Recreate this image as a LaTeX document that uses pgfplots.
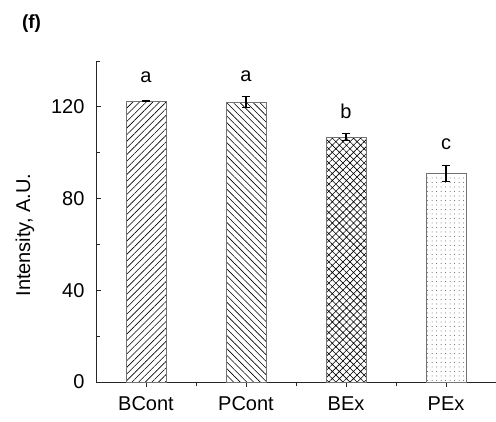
\documentclass[border=0pt]{standalone}
\usepackage{pgfplots}
\pgfplotsset{compat=1.18}
\usepackage{fontspec}
\setmainfont{Liberation Sans}
\usetikzlibrary{patterns.meta}
\begin{document}
\begin{tikzpicture}
\path[use as bounding box] (0,0) rectangle (496pt,421pt);
\begin{axis}[
  at={(96pt,39pt)}, anchor=south west,
  scale only axis, width=400pt, height=321pt,
  xmin=-0.5, xmax=3.5, ymin=0, ymax=140,
  axis x line=bottom, axis y line=left,
  axis line style={-, line width=0.9pt, color=black!85},
  xtick={0,1,2,3}, xticklabels={BCont,PCont,BEx,PEx},
  minor xtick={0.5,1.5,2.5,3.5},
  ytick={0,40,80,120}, minor ytick={20,60,100,140},
  tick align=inside,
  major tick length=5pt, minor tick length=4pt,
  tick style={line width=0.8pt, color=black!85},
  ticklabel style={font=\fontsize{20}{24}\selectfont},
  /pgf/number format/assume math mode=true,
  xticklabel style={yshift=-6pt},
  yticklabel style={xshift=-8pt},
  clip=false,
  ybar, bar width=0.4,
  error bars/y dir=both, error bars/y explicit,
  error bars/error bar style={line width=1.1pt, black},
  error bars/error mark options={rotate=90, mark size=4.3pt, line width=1.1pt, black},
]
\addplot[bar shift=0pt, draw=black!55, line width=0.9pt, pattern={Lines[angle=45,distance=4.7pt,line width=0.6pt]}, pattern color=black]
  coordinates {(0,122.5) +- (0,0.3)};
\addplot[bar shift=0pt, draw=black!55, line width=0.9pt, pattern={Lines[angle=-45,distance=4.7pt,line width=0.6pt]}, pattern color=black]
  coordinates {(1,122.1) +- (0,2.4)};
\addplot[bar shift=0pt, draw=black!55, line width=0.9pt, pattern={Hatch[angle=45,distance=5pt,line width=0.6pt]}, pattern color=black]
  coordinates {(2,106.8) +- (0,1.6)};
\addplot[bar shift=0pt, draw=black!55, line width=0.9pt, pattern={Dots[distance=4.5pt,radius=0.5pt]}, pattern color=black!65]
  coordinates {(3,90.8) +- (0,3.5)};
\node[font=\fontsize{20}{24}\selectfont] at (axis cs:0,133) {a};
\node[font=\fontsize{20}{24}\selectfont] at (axis cs:1,133.5) {a};
\node[font=\fontsize{20}{24}\selectfont] at (axis cs:2,118.2) {b};
\node[font=\fontsize{20}{24}\selectfont] at (axis cs:3,103.6) {c};
\end{axis}
\node[rotate=90, font=\fontsize{20}{24}\selectfont] at (25pt,186pt) {Intensity, A.U.};
\node[font=\bfseries\fontsize{19}{23}\selectfont] at (31.5pt,397.5pt) {(f)};
\end{tikzpicture}
\end{document}
